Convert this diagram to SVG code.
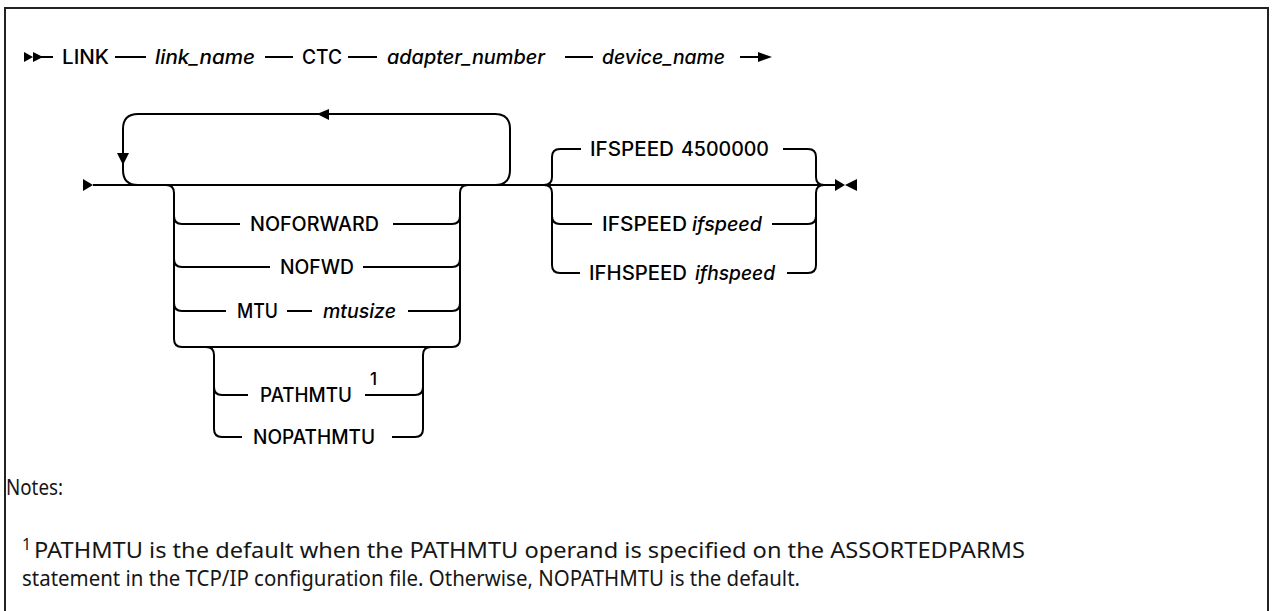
<svg xmlns="http://www.w3.org/2000/svg" width="1273" height="611" viewBox="0 0 1273 611">
<style>
.t{font-family:Inter,"Noto Sans","Liberation Sans",sans-serif;font-size:19.5px;font-weight:500;fill:#000}
.i{font-style:italic}
.sup{font-family:Inter,"Noto Sans","Liberation Sans",sans-serif;font-size:17px;font-weight:500;fill:#000}
.n{font-family:"Noto Sans","Liberation Sans",sans-serif;font-size:22px;fill:#161616}
.ns{font-family:"Noto Sans","Liberation Sans",sans-serif;font-size:16px;fill:#161616}
.l{fill:none;stroke:#000;stroke-width:2}
.h{fill:#000;stroke:none}
</style>
<rect x="5" y="8" width="1263" height="620" fill="#fff" stroke="#222" stroke-width="2"/>

<g id="connectors">
  <!-- row 1 -->
  <polygon class="h" points="24,52 33,57 24,62"/>
  <polygon class="h" points="33,52 43,57 33,62"/>
  <path class="l" d="M33,57 H53 M115,57 H146 M265,57 H293 M348,57 H377 M565,57 H593 M740,57 H762"/>
  <polygon class="h" points="758,52 772,57 758,62"/>
  <!-- row 2 main line -->
  <polygon class="h" points="83,179 93,185 83,191"/>
  <path class="l" d="M93,185 H835"/>
  <!-- repeat loop -->
  <path class="l" d="M495,185 Q510,185 510,170 V129 Q510,114 495,114 H138 Q123,114 123,129 V170 Q123,185 138,185"/>
  <polygon class="h" points="117,153 129,153 123,165"/>
  <polygon class="h" points="329,109 329,120 317,114"/>
  <!-- repeat group choices -->
  <path class="l" d="M166,185 Q174,185 174,193 V339 Q174,347 182,347 H452 Q460,347 460,339 V193 Q460,185 468,185"/>
  <path class="l" d="M174,216 Q174,224 182,224 H240 M393,224 H452 Q460,224 460,216"/>
  <path class="l" d="M174,259 Q174,267 182,267 H270 M363,267 H452 Q460,267 460,259"/>
  <path class="l" d="M174,303 Q174,311 182,311 H226 M287,311 H312 M408,311 H452 Q460,311 460,303"/>
  <!-- nested PATHMTU group -->
  <path class="l" d="M206,347 Q214,347 214,355 V429 Q214,437 222,437 H242 M392,437 H415 Q423,437 423,429 V355 Q423,347 431,347"/>
  <path class="l" d="M214,387 Q214,395 222,395 H248 M365,395 H415 Q423,395 423,387"/>
  <!-- IFSPEED group -->
  <path class="l" d="M544,185 Q552,185 552,177 V157 Q552,149 560,149 H581 M783,149 H808 Q816,149 816,157 V177 Q816,185 824,185"/>
  <path class="l" d="M544,185 Q552,185 552,193 V265 Q552,273 560,273 H580 M787,273 H808 Q816,273 816,265 V193 Q816,185 824,185"/>
  <path class="l" d="M552,216 Q552,224 560,224 H592 M772,224 H808 Q816,224 816,216"/>
  <polygon class="h" points="835,179 845,185 835,191"/>
  <polygon class="h" points="857,179 845,185 857,191"/>
</g>

<g id="node-link"><text class="t" x="62" y="64" textLength="47" lengthAdjust="spacingAndGlyphs">LINK</text></g>
<g id="node-link_name"><text class="t i" x="155" y="64" textLength="100" lengthAdjust="spacingAndGlyphs">link_name</text></g>
<g id="node-ctc"><text class="t" x="302" y="64" textLength="40" lengthAdjust="spacingAndGlyphs">CTC</text></g>
<g id="node-adapter_number"><text class="t i" x="387" y="64" textLength="158" lengthAdjust="spacingAndGlyphs">adapter_number</text></g>
<g id="node-device_name"><text class="t i" x="602" y="64" textLength="123" lengthAdjust="spacingAndGlyphs">device_name</text></g>

<g id="node-noforward"><text class="t" x="250" y="231" textLength="129" lengthAdjust="spacingAndGlyphs">NOFORWARD</text></g>
<g id="node-nofwd"><text class="t" x="280" y="274" textLength="74" lengthAdjust="spacingAndGlyphs">NOFWD</text></g>
<g id="node-mtu">
  <text class="t" x="237" y="318" textLength="41" lengthAdjust="spacingAndGlyphs">MTU</text>
  <text class="t i" x="323" y="318" textLength="73" lengthAdjust="spacingAndGlyphs">mtusize</text>
</g>
<g id="node-pathmtu">
  <text class="t" x="260" y="402" textLength="92" lengthAdjust="spacingAndGlyphs">PATHMTU</text>
  <text class="sup" x="370" y="385">1</text>
</g>
<g id="node-nopathmtu"><text class="t" x="253" y="444" textLength="122" lengthAdjust="spacingAndGlyphs">NOPATHMTU</text></g>

<g id="node-ifspeed-default">
  <text class="t" x="590" y="156" textLength="84" lengthAdjust="spacingAndGlyphs">IFSPEED</text>
  <text class="t" x="681" y="156" textLength="88" lengthAdjust="spacingAndGlyphs">4500000</text>
</g>
<g id="node-ifspeed">
  <text class="t" x="602" y="231" textLength="85" lengthAdjust="spacingAndGlyphs">IFSPEED</text>
  <text class="t i" x="692" y="231" textLength="70" lengthAdjust="spacingAndGlyphs">ifspeed</text>
</g>
<g id="node-ifhspeed">
  <text class="t" x="589" y="280" textLength="98" lengthAdjust="spacingAndGlyphs">IFHSPEED</text>
  <text class="t i" x="695" y="280" textLength="80" lengthAdjust="spacingAndGlyphs">ifhspeed</text>
</g>

<g id="notes">
  <text class="n" x="6" y="495" textLength="57" lengthAdjust="spacingAndGlyphs">Notes:</text>
  <text class="ns" x="22" y="550">1</text>
  <text class="n" x="34" y="558" textLength="991" lengthAdjust="spacingAndGlyphs">PATHMTU is the default when the PATHMTU operand is specified on the ASSORTEDPARMS</text>
  <text class="n" x="22" y="586" textLength="778" lengthAdjust="spacingAndGlyphs">statement in the TCP/IP configuration file. Otherwise, NOPATHMTU is the default.</text>
</g>
</svg>
